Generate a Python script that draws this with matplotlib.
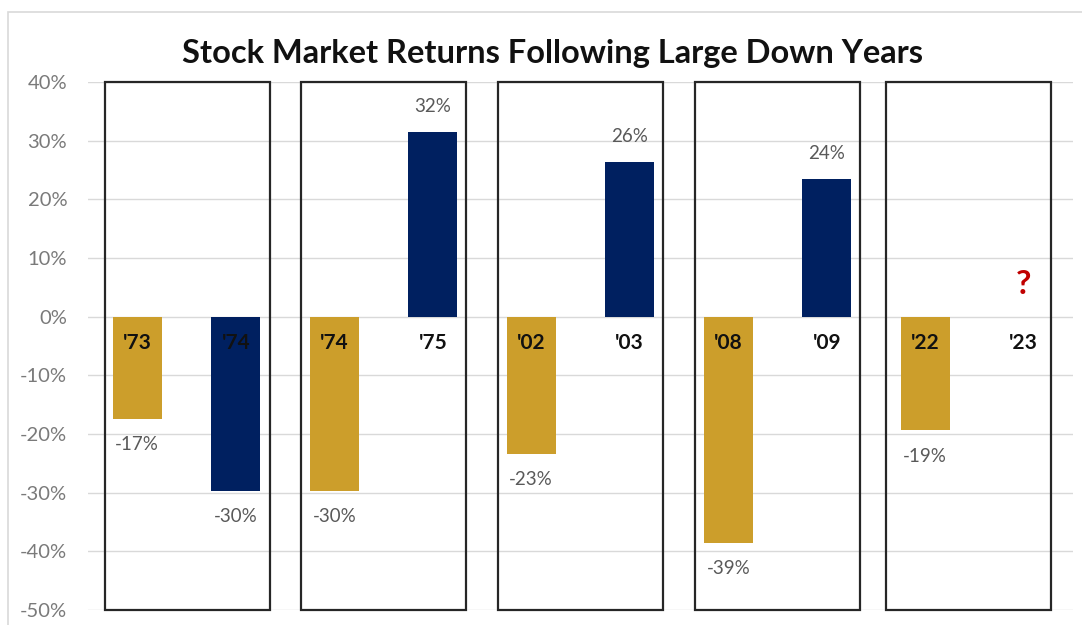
import numpy as np
import matplotlib.pyplot as plt
import matplotlib.patches as patches

# data (annual returns, %)
years = ["'73", "'74", "'74", "'75", "'02", "'03", "'08", "'09", "'22", "'23"]
returns = [-17.4, -29.7, -29.7, 31.5, -23.4, 26.4, -38.6, 23.5, -19.4, np.nan]
pair_role = ["down", "next"] * 5
y_ticks = [40, 30, 20, 10, 0, -10, -20, -30, -40, -50]

GOLD = '#CC9E2B'
NAVY = '#002060'
plt.rcParams['font.family'] = ['Lato', 'DejaVu Sans']

fig = plt.figure(figsize=(10.82, 6.25), dpi=100)
ax = fig.add_axes([88 / 1082, 1 - 610 / 625, 985 / 1082, 528 / 625])

# light outer frame of the chart area
frame = patches.Rectangle((8 / 1082, -0.1), 1.2, 1 - 12 / 625 + 0.1,
                          transform=fig.transFigure, fill=False,
                          edgecolor='#d9d9d9', lw=1.2, clip_on=False)
fig.patches.append(frame)

x = np.arange(len(years))
colors = [GOLD if r == "down" else NAVY for r in pair_role]
vals = np.array(returns, dtype=float)
ax.bar(x, np.nan_to_num(vals), width=0.5, color=colors, zorder=3)

# value labels
for xi, v in zip(x, vals):
    if np.isnan(v):
        continue
    off = 18.5 if v > 0 else -18.5
    ax.annotate(f"{v:.0f}%", (xi, v), xytext=(0, off), textcoords='offset points',
                ha='center', va='center', fontsize=13.5, color='#595959', zorder=5)

# year labels near the zero line
for xi, lab in zip(x, years):
    ax.text(xi, -4.5, lab, ha='center', va='center', fontsize=15,
            fontweight='bold', color='#111111', zorder=5)

ax.text(9, 5.5, '?', ha='center', va='center', fontsize=24,
        fontweight='bold', color='#C00000', zorder=5)

# boxes around each pair of years (hand placed in the original, last one a bit left)
box_left = [-0.33, 1.66, 3.66, 5.66, 7.60]
for left in box_left:
    box = patches.Rectangle((left, -50), 1.68, 90, fill=False,
                            edgecolor='#262626', lw=1.6, zorder=4, clip_on=False)
    ax.add_patch(box)

ax.set_xlim(-0.5, 9.5)
ax.set_ylim(-50, 40)
ax.set_yticks(y_ticks)
ax.set_yticklabels([f"{t}%" for t in y_ticks])
ax.tick_params(axis='y', length=0, pad=15, labelsize=14.5, labelcolor='#7a7a7a')
ax.set_xticks([])
ax.yaxis.grid(True, color='#d9d9d9', lw=1, zorder=0)
ax.set_axisbelow(True)
for s in ax.spines.values():
    s.set_visible(False)

fig.text(552 / 1082, 1 - 54 / 625, 'Stock Market Returns Following Large Down Years',
         ha='center', va='center', fontsize=23.5, fontweight='bold', color='#111111')

fig.savefig('out.png', dpi=100)
